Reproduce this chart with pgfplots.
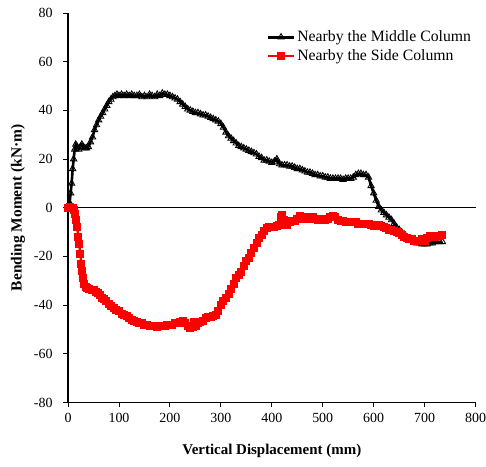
\documentclass[border=0pt]{standalone}
\usepackage{fontspec}
\setmainfont{Liberation Serif}
\usepackage{pgfplots}
\pgfplotsset{compat=1.18}

\begin{document}
\begin{tikzpicture}
\begin{axis}[
  scale only axis,
  width=407bp, height=389bp,
  xmin=0, xmax=800, ymin=-80, ymax=80,
  xtick distance=100, ytick distance=20,
  axis lines*=left,
  axis line style={line width=1.3pt},
  tick align=outside,
  major tick length=5bp,
  tick style={line width=1pt, black},
  /pgf/number format/assume math mode=true,
  ticklabel style={font=\fontsize{14}{16}\selectfont},
  yticklabel style={xshift=-7bp},
  xticklabel style={yshift=-2bp, inner xsep=0bp},
  xlabel={\fontsize{15}{17}\selectfont\bfseries Vertical Displacement (mm)},
  ylabel={\fontsize{15.5}{17}\selectfont\bfseries Bending Moment (kN·m)},
  xlabel style={at={(axis description cs:0.5,0)}, anchor=center, yshift=-48bp},
  ylabel style={at={(axis description cs:0,0.5)}, anchor=center, yshift=50bp},
  legend style={at={(0.997,0.962)}, anchor=north east, draw=none, fill=none,
    font=\fontsize{15.8}{17}\selectfont, row sep=2.5bp, inner sep=1bp},
  legend image code/.code={
    \draw[mark repeat=2, mark phase=2, #1] plot coordinates {(0bp,0bp) (13bp,0bp) (26bp,0bp)};},
  legend cell align=left,
  clip=false,
]
\draw[black, line width=0.6pt] (axis cs:0,0) -- (axis cs:800,0);
\addplot[black, line width=2.6pt, mark=triangle, mark size=3.6bp,
  mark options={line width=0.9pt}]
coordinates {
(0,0)(3,2)(5,6)(7,10)(9,16)(11,20)(13,24)(15,26)(18,25)(21,24)(24,25)(27,26)(30,25)(33,24.5)(36,24.5)
(40,25)(44,27)(48,29)(52,32)(56,34)(60,36)(64,37.5)(68,39)(72,40.5)(76,42)(80,43.5)(84,44.5)(88,45.5)
(92,46)(96,46.5)(100,46)(105,46.5)(110,46)(115,46.5)(120,46)(125,46.5)(130,46)(135,46)(140,46.5)
(145,45.5)(150,46)(155,45.5)(160,46.5)(165,46)(170,45.5)(175,46.5)(180,46)(185,47)(190,46.5)(195,46.5)
(200,46)(205,45.5)(210,45)(215,44.5)(220,43.5)(225,42.5)(230,41.5)(235,40.5)(240,40)(245,39.5)(250,39)
(255,39)(260,38.5)(265,38)(270,38)(275,37.5)(280,37)(285,36.5)(290,36)(295,35.5)(300,34.5)(305,33)
(310,31)(315,29.5)(320,28.5)(325,27.5)(330,26.5)(335,25.5)(340,25)(345,24.5)(350,24)(355,23.5)(360,23)
(365,22.5)(370,22)(375,21)(380,20.5)(385,19.5)(390,19.5)(395,19)(400,18.5)(405,19)(410,20)(415,18)
(420,17.5)(425,17.5)(430,17.5)(435,17)(440,17)(445,16.5)(450,16)(455,16)(460,15.5)(465,15)(470,14.5)
(475,14.5)(480,14)(485,13.5)(490,13.5)(495,13)(500,13)(505,12.5)(510,12.5)(515,12)(520,12)(525,12)
(530,12)(535,12)(540,11.5)(545,12)(550,12)(555,12)(560,12.5)(565,13.5)(570,14)(575,14)(580,13.5)
(585,13.5)(590,12.5)(595,9)(600,6)(605,3)(610,0.5)(615,-1)(620,-2)(625,-3)(630,-4)(635,-5)(640,-6.5)
(645,-8)(650,-9)(655,-10)(660,-11)(665,-12)(670,-13)(675,-13.5)(680,-14)(685,-14.5)(690,-14.5)
(695,-15)(700,-15)(705,-15)(710,-14.5)(715,-14.5)(720,-14)(725,-14)(730,-14)(735,-14)
};
\addlegendentry{Nearby the Middle Column}
\addplot[red, line width=2.4pt, mark=square*, mark size=2.8bp]
coordinates {
(0,0)(3,0.5)(6,0)(9,0)(12,-1)(14,-2.5)(16,-5)(18,-8)(20,-12)(22,-15)(24,-19)(26,-23)(28,-26)(30,-29)
(32,-31.5)(35,-32.5)(38,-33)(42,-33.5)(46,-34)(50,-34)(54,-34.5)(58,-35)(62,-36)(66,-37)(70,-37.5)
(75,-38.5)(80,-39.5)(85,-40.5)(90,-41)(95,-42)(100,-42.5)(105,-43.5)(110,-44)(115,-44.5)(120,-45.5)
(125,-46)(130,-46.5)(135,-47)(140,-47.5)(145,-47.5)(150,-48)(155,-48)(160,-48.5)(165,-48.5)(170,-48.5)
(175,-49)(180,-48.5)(185,-48.5)(190,-48.5)(195,-48)(200,-48)(205,-48)(210,-47.5)(215,-47.5)(220,-47)
(225,-46.5)(230,-47.5)(235,-48.5)(240,-49.5)(245,-49)(248,-47)(252,-48.5)(256,-47.5)(260,-47)
(265,-46.5)(270,-45.5)(275,-45)(280,-45)(285,-44.5)(290,-44)(295,-42.5)(300,-40)(305,-38.5)(310,-37)
(315,-35.5)(320,-33.5)(325,-31.5)(330,-29)(335,-27.5)(340,-26.5)(345,-24)(350,-22)(355,-20.5)
(360,-18.5)(365,-16.5)(370,-14.5)(375,-12.5)(380,-11)(385,-9.5)(390,-8.5)(395,-8)(400,-8)(405,-8)
(410,-7.5)(415,-7)(418,-4)(420,-3)(423,-5)(426,-7)(430,-7)(435,-6)(440,-5.5)(445,-5.5)(450,-4.5)
(455,-3.5)(460,-4)(465,-4.5)(470,-4.5)(475,-4)(480,-4)(485,-4.5)(490,-5)(495,-4.5)(500,-4.5)(505,-5)
(510,-4.5)(515,-4)(520,-3.5)(525,-4)(530,-5)(535,-5.5)(540,-5.5)(545,-6)(550,-6)(555,-6)(560,-6)
(565,-6)(570,-6.5)(575,-6.5)(580,-6.5)(585,-6.5)(590,-6.5)(595,-7)(600,-7.5)(605,-7.5)(610,-7)
(615,-7.5)(620,-8)(625,-8.5)(630,-9)(635,-9)(640,-9.5)(645,-10)(650,-10.5)(655,-11)(660,-12)
(665,-12.5)(670,-13)(675,-13)(680,-13.5)(685,-13.5)(690,-13.5)(695,-13)(700,-13.5)(705,-12.5)
(710,-11.5)(715,-11.5)(720,-12)(725,-11.5)(730,-11.5)(735,-11)
};
\addlegendentry{Nearby the Side Column}
\end{axis}
\path ([shift={(-68bp,-64bp)}]current axis.south west) ([shift={(0bp,13bp)}]current axis.north west);
\end{tikzpicture}
\end{document}
